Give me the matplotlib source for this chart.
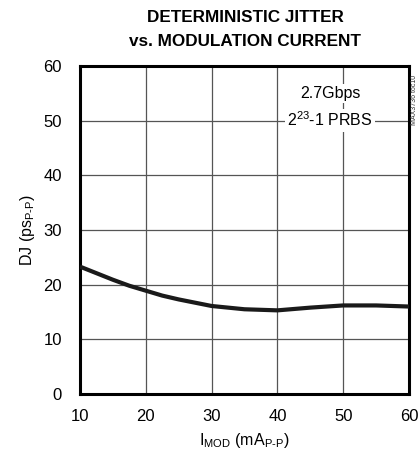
import matplotlib
matplotlib.use("Agg")
import matplotlib.pyplot as plt
from matplotlib import font_manager as fm

names = {f.name for f in fm.fontManager.ttflist}
FONT = "Liberation Sans Narrow" if "Liberation Sans Narrow" in names else "Liberation Sans"
plt.rcParams["font.family"] = [FONT, "DejaVu Sans"]
plt.rcParams["mathtext.fontset"] = "custom"
plt.rcParams["mathtext.rm"] = FONT
plt.rcParams["mathtext.it"] = FONT
plt.rcParams["mathtext.bf"] = FONT + ":bold"

# Data
imod = [10, 12.5, 15, 17.5, 20, 22.5, 25, 27.5, 30, 35, 40, 45, 50, 55, 60]
dj = [23.3, 22.1, 20.9, 19.8, 18.9, 18.0, 17.3, 16.7, 16.1, 15.5, 15.3, 15.8, 16.2, 16.2, 16.0]
xticks = [10, 20, 30, 40, 50, 60]
yticks = [0, 10, 20, 30, 40, 50, 60]

fig = plt.figure(figsize=(4.18, 4.59), dpi=100)
ax = fig.add_axes([80/418, 1-394/459, (409-80)/418, (394-66)/459])
ax.set_xlim(10, 60)
ax.set_ylim(0, 60)
ax.set_xticks(xticks)
ax.set_yticks(yticks)
ax.grid(True, color="#555555", linewidth=0.9)
ax.tick_params(length=0, labelsize=12)
ax.tick_params(axis="x", pad=11)
ax.tick_params(axis="y", pad=13)
for s in ax.spines.values():
    s.set_linewidth(2.2)
    s.set_color("black")

ax.plot(imod, dj, color="#1a1a1a", linewidth=3.0, solid_capstyle="butt", solid_joinstyle="round", zorder=3)

bbox = dict(facecolor="white", edgecolor="none", pad=1.5)
ax.text(48.0, 54.9, "2.7Gbps", ha="center", va="center", fontsize=11.5, bbox=bbox, zorder=4)
ax.text(48.0, 50.1, r"2$^{23}$-1 PRBS", ha="center", va="center", fontsize=11.5, bbox=bbox, zorder=4)

ax.set_xlabel(r"I$_{\mathrm{MOD}}$ (mA$_{\mathrm{P\text{-}P}}$)", fontsize=11.5, labelpad=5)
ax.set_ylabel(r"DJ (ps$_{\mathrm{P\text{-}P}}$)", fontsize=11.5)
ax.yaxis.set_label_coords((37 - 80) / 329, 0.5)

fig.text(245/418, 1-17/459, "DETERMINISTIC JITTER", ha="center", va="center", fontsize=12.3, fontweight="bold")
fig.text(245/418, 1-41/459, "vs. MODULATION CURRENT", ha="center", va="center", fontsize=12.3, fontweight="bold")
fig.text(414/418, 1-100/459, "MAX3736 toc10", rotation=90, ha="center", va="center", fontsize=5, color="#333333")

fig.savefig("out.png", dpi=100)
